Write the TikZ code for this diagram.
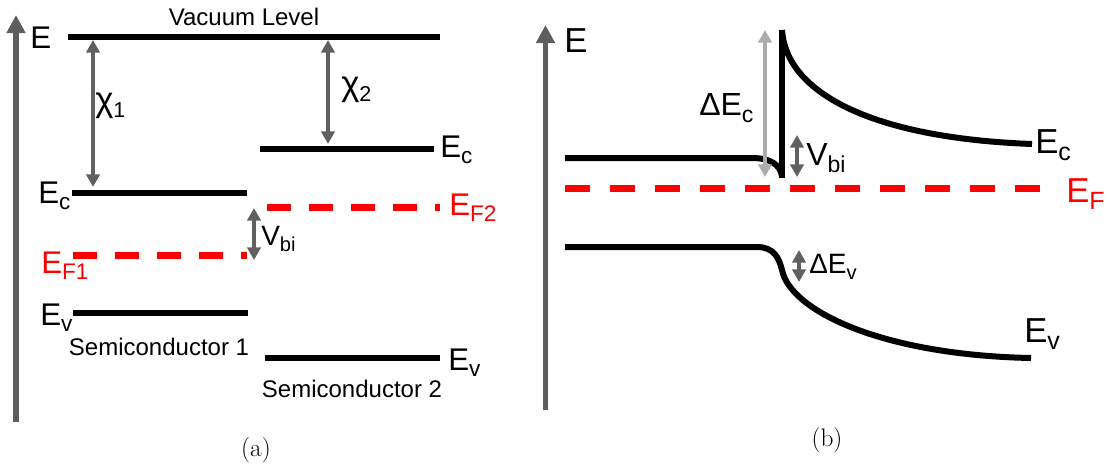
\documentclass[tikz,border=0pt]{standalone}
\usepackage{fontspec}
\usepackage{graphicx}
\newfontfamily\arialf{Liberation Sans}
\usetikzlibrary{arrows.meta}
\definecolor{axgray}{HTML}{5E5E5E}
\definecolor{arrgray}{HTML}{606060}
\definecolor{ltgray}{HTML}{ABABAB}
\definecolor{fred}{HTML}{FF0000}
\newcommand\dn[1]{\raisebox{-0.22em}{\scalebox{0.72}{#1}}}
\begin{document}
\begin{tikzpicture}[x=0.75pt,y=-0.75pt,
 band/.style={line width=4.5pt},
 fermiA/.style={draw=fred,line width=5.25pt,dash pattern=on 18pt off 13.5pt},
 fermiB/.style={draw=fred,line width=5.25pt,dash pattern=on 18.75pt off 15pt},
 axis/.style={draw=axgray,line width=4.1pt,-{Triangle[width=13.5pt,length=13.5pt]}},
 dbl/.style={draw=arrgray,line width=2.4pt,{Triangle[width=10pt,length=9.5pt]}-{Triangle[width=10pt,length=9.5pt]}},
 dbllt/.style={dbl,draw=ltgray},
 labA/.style={font=\arialf\fontsize{23.5}{23.5}\selectfont,inner sep=0,anchor=base west},
 labB/.style={font=\arialf\fontsize{26}{26}\selectfont,inner sep=0,anchor=base west},
 redlab/.style={text=fred},
 txt/.style={font=\arialf\fontsize{18}{18}\selectfont,inner sep=0,anchor=base},
 capt/.style={font=\fontsize{19}{19}\selectfont,inner sep=0,anchor=base}]
\useasboundingbox (0,0) rectangle (1112,472);
% ---------------- panel (a) ----------------
\coordinate (axAb) at (16,422); \coordinate (axAt) at (16,15);
\draw[axis] (axAb) -- (axAt);
\node[labA] (EA) at (30,48) {E};
\coordinate (vacL) at (68,37); \coordinate (vacR) at (440,37);
\draw[band] (vacL) -- (vacR);
\node[txt] (vac) at (244,25) {Vacuum Level};
\coordinate (ec1L) at (72,193); \coordinate (ec1R) at (247,193);
\draw[band] (ec1L) -- (ec1R);
\coordinate (ec2L) at (260,149); \coordinate (ec2R) at (434,149);
\draw[band] (ec2L) -- (ec2R);
\coordinate (chi1t) at (93,40); \coordinate (chi1b) at (93,187);
\draw[dbl] (chi1t) -- (chi1b);
\coordinate (chi2t) at (328,40); \coordinate (chi2b) at (328,144);
\draw[dbl] (chi2t) -- (chi2b);
\node[labA,font=\arialf\fontsize{26}{26}\selectfont] (chi1) at (95,111) {χ\raisebox{-0.2em}{\scalebox{0.62}{1}}};
\node[labA,font=\arialf\fontsize{26}{26}\selectfont] (chi2) at (341,95) {χ\raisebox{-0.2em}{\scalebox{0.62}{2}}};
\node[labA] (EcA1) at (38,203) {E\dn{c}};
\node[labA] (EcA2) at (440,157) {E\dn{c}};
\coordinate (ef2L) at (267,207); \coordinate (ef2R) at (440,207);
\draw[fermiA] (ef2L) -- (ef2R);
\node[labA,redlab] (EF2) at (449,215) {E\dn{F2}};
\coordinate (ef1L) at (73,255); \coordinate (ef1R) at (247,255);
\draw[fermiA] (ef1L) -- (ef1R);
\node[labA,redlab] (EF1) at (41,273) {E\dn{F1}};
\coordinate (vbiAt) at (254,208); \coordinate (vbiAb) at (254,260);
\draw[dbl] (vbiAt) -- (vbiAb);
\node[labA,font=\arialf\fontsize{21}{21}\selectfont] (VbiA) at (261,245) {V\dn{bi}};
\coordinate (ev1L) at (73,313); \coordinate (ev1R) at (248,313);
\draw[band] (ev1L) -- (ev1R);
\node[labA] (EvA1) at (40,325) {E\dn{v}};
\node[txt] (sc1) at (159,355) {Semiconductor 1};
\coordinate (ev2L) at (265,358); \coordinate (ev2R) at (440,358);
\draw[band] (ev2L) -- (ev2R);
\node[labA] (EvA2) at (448,370) {E\dn{v}};
\node[txt] (sc2) at (352,397) {Semiconductor 2};
\node[capt] (capA) at (256,456) {(a)};
% ---------------- panel (b) ----------------
\coordinate (axBb) at (545.5,410); \coordinate (axBt) at (545.5,25);
\draw[axis] (axBb) -- (axBt);
\node[labB] (EB) at (564,52) {E};
\coordinate (ecBL) at (565,158); \coordinate (ecBk) at (752,158);
\coordinate (dipB) at (782,176);
\coordinate (spikeB) at (782,178); \coordinate (spikeT) at (782,30);
\coordinate (ecBR) at (1032,144);
\draw[band] (ecBL) -- (ecBk) .. controls (771,158) and (780,165) .. (dipB);
\draw[band] (spikeB) -- (spikeT);
\draw[band] (spikeT) .. controls (786,92) and (870,138) .. (ecBR);
\node[labB] (EcB) at (1035,153) {E\dn{c}};
\coordinate (efBL) at (565,188); \coordinate (efBR) at (1040,188);
\draw[fermiB] (efBL) -- (efBR);
\node[labB,redlab] (EFB) at (1066,202) {E\dn{F}};
\coordinate (dEct) at (765,30); \coordinate (dEcb) at (765,177);
\draw[dbllt] (dEct) -- (dEcb);
\node[labA,font=\arialf\fontsize{24}{24}\selectfont] (dEc) at (699,115) {ΔE\dn{c}};
\coordinate (vbiBt) at (797,135); \coordinate (vbiBb) at (797,177);
\draw[dbl] (vbiBt) -- (vbiBb);
\node[labA,font=\arialf\fontsize{24}{24}\selectfont] (VbiB) at (806,165) {V\dn{bi}};
\coordinate (evBL) at (565,247); \coordinate (evBk) at (757,247);
\coordinate (evBm) at (782,270); \coordinate (evBR) at (1031,358);
\draw[band] (evBL) -- (evBk) .. controls (774,247) and (779,258) .. (evBm)
  .. controls (790,310) and (880,355) .. (evBR);
\coordinate (dEvt) at (799,250); \coordinate (dEvb) at (799,282);
\draw[dbl] (dEvt) -- (dEvb);
\node[labA,font=\arialf\fontsize{21}{21}\selectfont] (dEv) at (809,273) {ΔE\dn{v}};
\node[labB] (EvB) at (1024,342) {E\dn{v}};
\node[capt] (capB) at (827,446) {(b)};
\end{tikzpicture}
\end{document}
